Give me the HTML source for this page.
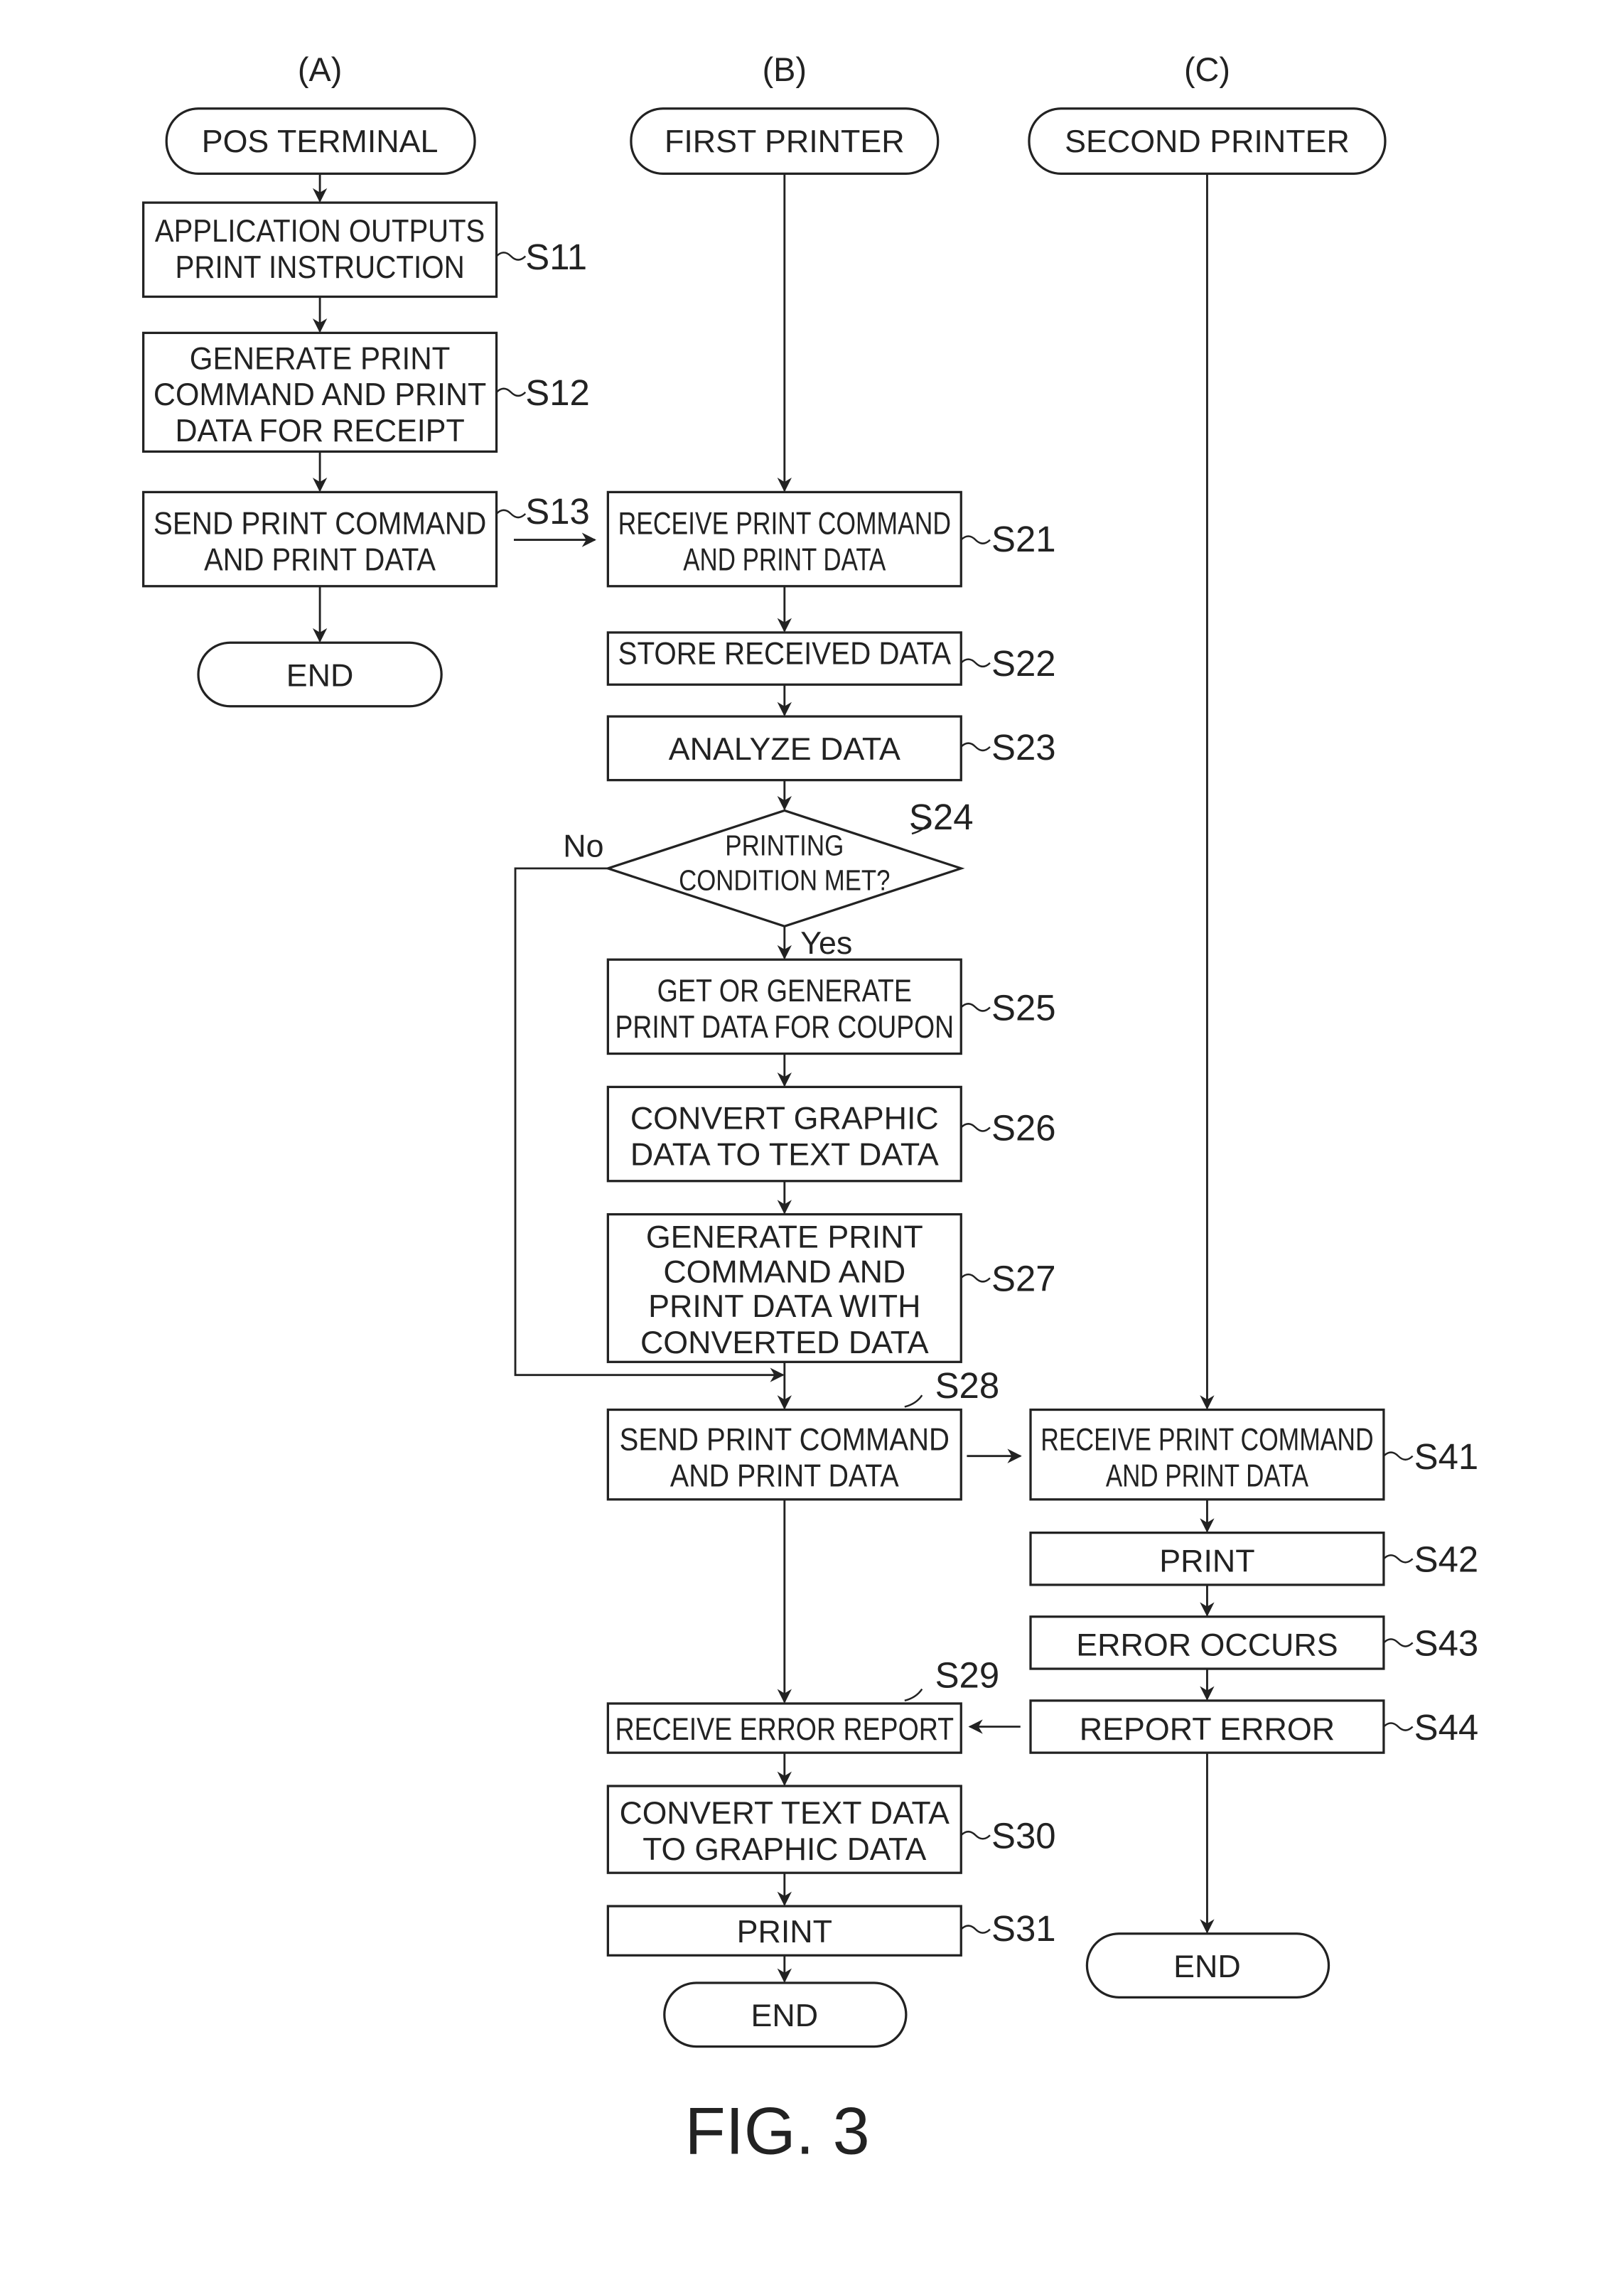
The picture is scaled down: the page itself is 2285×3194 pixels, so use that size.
<!DOCTYPE html>
<html><head><meta charset="utf-8"><style>
html,body{margin:0;padding:0;background:#fff}
svg{display:block}
text{font-family:"Liberation Sans",sans-serif;fill:#222}
</style></head><body>
<svg width="2285" height="3194" viewBox="0 0 1122 1568.4" xmlns="http://www.w3.org/2000/svg">
<defs><marker id="a" markerWidth="10" markerHeight="10" refX="9" refY="5" orient="auto" markerUnits="userSpaceOnUse"><path d="M0,0 L10,5 L0,10 L3,5 Z" fill="#222"/></marker></defs>
<g fill="none" stroke="#222" stroke-width="1.6">
<rect x="115" y="75" width="213" height="45" rx="22"/>
<rect x="436" y="75" width="212" height="45" rx="22"/>
<rect x="711" y="75" width="246" height="45" rx="22"/>
<rect x="99" y="140" width="244" height="65"/>
<rect x="99" y="230" width="244" height="82"/>
<rect x="99" y="340" width="244" height="65"/>
<rect x="137" y="444" width="168" height="44" rx="22"/>
<rect x="420" y="340" width="244" height="65"/>
<rect x="420" y="437" width="244" height="36"/>
<rect x="420" y="495" width="244" height="44"/>
<path d="M542,560 L664,600 L542,640 L420,600 Z"/>
<rect x="420" y="663" width="244" height="65"/>
<rect x="420" y="751" width="244" height="65"/>
<rect x="420" y="839" width="244" height="102"/>
<rect x="420" y="974" width="244" height="62"/>
<rect x="420" y="1177" width="244" height="34"/>
<rect x="420" y="1234" width="244" height="60"/>
<rect x="420" y="1317" width="244" height="34"/>
<rect x="459" y="1370" width="167" height="44" rx="22"/>
<rect x="712" y="974" width="244" height="62"/>
<rect x="712" y="1059" width="244" height="36"/>
<rect x="712" y="1117" width="244" height="36"/>
<rect x="712" y="1175" width="244" height="36"/>
<rect x="751" y="1336" width="167" height="44" rx="22"/>
</g>
<g fill="none" stroke="#222" stroke-width="1.4" marker-end="url(#a)">
<path d="M221,120 V139"/><path d="M221,205 V229"/><path d="M221,312 V339"/><path d="M221,405 V443"/>
<path d="M355,373 H411"/>
<path d="M542,120 V339"/><path d="M542,405 V436"/><path d="M542,473 V494"/><path d="M542,539 V559"/>
<path d="M542,640 V662"/><path d="M542,728 V750"/><path d="M542,816 V838"/><path d="M542,941 V973"/>
<path d="M420,600 H356 V950 H541"/>
<path d="M668,1006 H705"/>
<path d="M542,1036 V1176"/><path d="M705,1193 H670"/>
<path d="M542,1211 V1233"/><path d="M542,1294 V1316"/><path d="M542,1351 V1369"/>
<path d="M834,120 V973"/><path d="M834,1036 V1058"/><path d="M834,1095 V1116"/><path d="M834,1153 V1174"/><path d="M834,1211 V1335"/>
</g>
<g fill="none" stroke="#222" stroke-width="1.2">
<path d="M343,177 q5,-5 10,0 t10,0"/><path d="M343,271 q5,-5 10,0 t10,0"/><path d="M343,355 q5,-5 10,0 t10,0"/>
<path d="M664,373 q5,-5 10,0 t10,0"/><path d="M664,458 q5,-5 10,0 t10,0"/><path d="M664,516 q5,-5 10,0 t10,0"/>
<path d="M630,576 q8,-2 12,-8"/><path d="M664,696 q5,-5 10,0 t10,0"/><path d="M664,779 q5,-5 10,0 t10,0"/><path d="M664,883 q5,-5 10,0 t10,0"/>
<path d="M625,972 q8,-2 12,-8"/><path d="M625,1175 q8,-2 12,-8"/>
<path d="M664,1268 q5,-5 10,0 t10,0"/><path d="M664,1333 q5,-5 10,0 t10,0"/>
<path d="M956,1006 q5,-5 10,0 t10,0"/><path d="M956,1077 q5,-5 10,0 t10,0"/><path d="M956,1135 q5,-5 10,0 t10,0"/><path d="M956,1193 q5,-5 10,0 t10,0"/>
</g>
<g font-size="23" text-anchor="middle">
<text x="221" y="56">(A)</text><text x="542" y="56">(B)</text><text x="834" y="56">(C)</text>
</g>
<g font-size="22" text-anchor="middle">
<text x="221" y="105">POS TERMINAL</text><text x="542" y="105">FIRST PRINTER</text><text x="834" y="105">SECOND PRINTER</text>
<text x="221" y="167" textLength="228" lengthAdjust="spacingAndGlyphs">APPLICATION OUTPUTS</text>
<text x="221" y="192" textLength="200" lengthAdjust="spacingAndGlyphs">PRINT INSTRUCTION</text>
<text x="221" y="255" textLength="180" lengthAdjust="spacingAndGlyphs">GENERATE PRINT</text>
<text x="221" y="280" textLength="230" lengthAdjust="spacingAndGlyphs">COMMAND AND PRINT</text>
<text x="221" y="305" textLength="200" lengthAdjust="spacingAndGlyphs">DATA FOR RECEIPT</text>
<text x="221" y="369" textLength="230" lengthAdjust="spacingAndGlyphs">SEND PRINT COMMAND</text>
<text x="221" y="394" textLength="160" lengthAdjust="spacingAndGlyphs">AND PRINT DATA</text>
<text x="221" y="474">END</text>
<text x="542" y="369" textLength="230" lengthAdjust="spacingAndGlyphs">RECEIVE PRINT COMMAND</text>
<text x="542" y="394" textLength="140" lengthAdjust="spacingAndGlyphs">AND PRINT DATA</text>
<text x="542" y="459" textLength="230" lengthAdjust="spacingAndGlyphs">STORE RECEIVED DATA</text>
<text x="542" y="525">ANALYZE DATA</text>
<text x="542" y="591" font-size="20" textLength="82" lengthAdjust="spacingAndGlyphs">PRINTING</text>
<text x="542" y="615" font-size="20" textLength="146" lengthAdjust="spacingAndGlyphs">CONDITION MET?</text>
<text x="542" y="692" textLength="176" lengthAdjust="spacingAndGlyphs">GET OR GENERATE</text>
<text x="542" y="717" textLength="234" lengthAdjust="spacingAndGlyphs">PRINT DATA FOR COUPON</text>
<text x="542" y="780">CONVERT GRAPHIC</text>
<text x="542" y="805">DATA TO TEXT DATA</text>
<text x="542" y="862">GENERATE PRINT</text>
<text x="542" y="886">COMMAND AND</text>
<text x="542" y="910">PRINT DATA WITH</text>
<text x="542" y="935">CONVERTED DATA</text>
<text x="542" y="1002" textLength="228" lengthAdjust="spacingAndGlyphs">SEND PRINT COMMAND</text>
<text x="542" y="1027" textLength="158" lengthAdjust="spacingAndGlyphs">AND PRINT DATA</text>
<text x="542" y="1202" textLength="234" lengthAdjust="spacingAndGlyphs">RECEIVE ERROR REPORT</text>
<text x="542" y="1260" textLength="228" lengthAdjust="spacingAndGlyphs">CONVERT TEXT DATA</text>
<text x="542" y="1285" textLength="196" lengthAdjust="spacingAndGlyphs">TO GRAPHIC DATA</text>
<text x="542" y="1342">PRINT</text>
<text x="542" y="1400">END</text>
<text x="834" y="1002" textLength="230" lengthAdjust="spacingAndGlyphs">RECEIVE PRINT COMMAND</text>
<text x="834" y="1027" textLength="140" lengthAdjust="spacingAndGlyphs">AND PRINT DATA</text>
<text x="834" y="1086">PRINT</text>
<text x="834" y="1144">ERROR OCCURS</text>
<text x="834" y="1202">REPORT ERROR</text>
<text x="834" y="1366">END</text>
</g>
<g font-size="25">
<text x="363" y="186">S11</text><text x="363" y="280">S12</text><text x="363" y="362">S13</text>
<text x="685" y="381">S21</text><text x="685" y="467">S22</text><text x="685" y="525">S23</text>
<text x="628" y="573">S24</text><text x="685" y="705">S25</text><text x="685" y="788">S26</text><text x="685" y="892">S27</text>
<text x="646" y="966">S28</text><text x="646" y="1166">S29</text><text x="685" y="1277">S30</text><text x="685" y="1341">S31</text>
<text x="977" y="1015">S41</text><text x="977" y="1086">S42</text><text x="977" y="1144">S43</text><text x="977" y="1202">S44</text>
<text x="389" y="592" font-size="22">No</text><text x="553" y="659" font-size="22">Yes</text>
</g>
<text x="537" y="1488" font-size="46" text-anchor="middle">FIG. 3</text>
</svg>
</body></html>
